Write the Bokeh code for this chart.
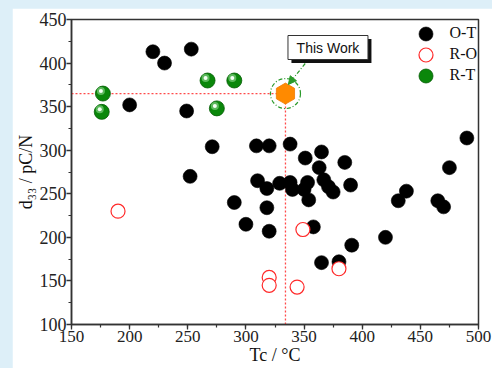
import numpy as np
from bokeh.plotting import figure
from bokeh.models import (Range1d, SingleIntervalTicker, Label, Arrow, NormalHead,
                          Legend, LegendItem, GlobalInlineStyleSheet)
from bokeh.transform import dodge
from bokeh.embed import file_html
from bokeh.resources import INLINE

# ---------------- data ----------------
ot_tc = [200, 220, 230, 253, 249, 271, 252, 290, 300, 309, 320, 338, 351, 365, 385,
         363, 310, 318, 329, 338, 340, 353, 350, 354, 367, 371, 375, 390, 318, 320,
         358, 391, 365, 380, 420, 475, 438, 431, 465, 470, 490]
ot_d33 = [352, 413, 400, 416, 345, 304, 270, 240, 215, 305, 305, 307, 291, 298, 286,
          280, 265, 256, 262, 263, 255, 263, 255, 243, 266, 258, 252, 260, 234, 207,
          212, 191, 171, 172, 200, 280, 253, 242, 242, 235, 314]
ro_tc = [190, 349, 380, 320, 320, 344]
ro_d33 = [230, 209, 164, 154, 145, 143]
rt_tc = [177, 176, 267, 290, 275]
rt_d33 = [365, 344, 380, 380, 348]
this_tc = [334]
this_d33 = [365]
series_names = ["O-T", "R-O", "R-T"]
callout_text = "This Work"
x_label = "Tc / \u00b0C"
y_label = "d\u2083\u2083 / pC/N"

X_START, X_END = 150, 500
Y_START, Y_END = 100, 450

# ---------------- layout (page pixels) ----------------
CANVAS_X0, CANVAS_Y0 = 12, 8
CANVAS_W, CANVAS_H = 480, 360
B_LEFT, B_TOP, B_RIGHT, B_BOTTOM = 55, 11, 14, 44
FRAME_X0 = CANVAS_X0 + B_LEFT
FRAME_Y0 = CANVAS_Y0 + B_TOP
FW = CANVAS_W - B_LEFT - B_RIGHT
FH = CANVAS_H - B_TOP - B_BOTTOM


def px2x(px):
    return X_START + (px - FRAME_X0) * (X_END - X_START) / FW


def px2y(py):
    return Y_END - (py - FRAME_Y0) * (Y_END - Y_START) / FH


SERIF = "Liberation Serif"
SANS = "Liberation Sans"

p = figure(width=CANVAS_W, height=CANVAS_H, output_backend="svg", toolbar_location=None,
           x_range=Range1d(X_START, X_END), y_range=Range1d(Y_START, Y_END),
           min_border_left=B_LEFT, min_border_top=B_TOP, min_border_right=B_RIGHT,
           min_border_bottom=B_BOTTOM, margin=(CANVAS_Y0, 0, 0, CANVAS_X0))
p.stylesheets = [GlobalInlineStyleSheet(css="body { background-color: #ddeff8; }")]
p.border_fill_color = "white"
p.background_fill_color = "white"
p.outline_line_color = "#333333"
p.outline_line_width = 1.5
p.grid.visible = False

for ax in (p.xaxis[0], p.yaxis[0]):
    ax.ticker = SingleIntervalTicker(interval=50, num_minor_ticks=2)
    ax.axis_line_color = "#333333"
    ax.axis_line_width = 1.5
    ax.major_tick_line_color = "#333333"
    ax.minor_tick_line_color = "#333333"
    ax.major_tick_line_width = 1.3
    ax.minor_tick_line_width = 1.2
    ax.major_tick_in = 0
    ax.major_tick_out = 5
    ax.minor_tick_in = 0
    ax.minor_tick_out = 3
    ax.major_label_text_font = SERIF
    ax.major_label_text_font_size = "18px"
    ax.major_label_text_color = "#222222"
    ax.axis_label_text_font = SERIF
    ax.axis_label_text_font_size = "18px"
    ax.axis_label_text_font_style = "normal"
    ax.axis_label_text_color = "#111111"
p.xaxis.axis_label = x_label
p.yaxis.axis_label = y_label
p.yaxis.major_label_standoff = 0
p.yaxis.axis_label_standoff = 1
p.xaxis.major_label_standoff = 1
p.xaxis.axis_label_standoff = 0
p.xaxis.major_label_text_font_size = "17px"

# reference lines for "this work"
ref_col = "#ff4a4a"
p.line([X_START, this_tc[0]], [this_d33[0], this_d33[0]], line_color=ref_col,
       line_dash="2 2", line_width=1.3)
p.line([this_tc[0], this_tc[0]], [Y_START, this_d33[0]], line_color=ref_col,
       line_dash="2 2", line_width=1.3)

# series
r_ot = p.scatter(ot_tc, ot_d33, size=14, marker="circle", fill_color="black",
                 line_color="black", line_width=0.6)
r_ro = p.scatter(ro_tc, ro_d33, size=14, marker="circle", fill_color="white",
                 line_color="#ff2a2a", line_width=1.2)
rt_src = dict(x=rt_tc, y=rt_d33)
r_rt = p.scatter("x", "y", source=rt_src, size=15, marker="circle", fill_color="#0a870a",
                 line_color="#035c03", line_width=0.8)
hx = -2 * (X_END - X_START) / FW
hy = 2.5 * (Y_END - Y_START) / FH
r_rt_h1 = p.scatter(dodge("x", hx, range=p.x_range), dodge("y", hy, range=p.y_range),
                    source=rt_src, size=8, marker="circle", fill_color="#7fcf7f",
                    fill_alpha=0.7, line_color=None)
r_rt_h2 = p.scatter(dodge("x", hx, range=p.x_range), dodge("y", hy, range=p.y_range),
                    source=rt_src, size=4, marker="circle", fill_color="#f4fff4",
                    line_color=None)

# this work
p.scatter(this_tc, this_d33, size=30, marker="circle", fill_color=None,
          line_color="#2a9a2a", line_width=1.2, line_dash="4 2 1 2")
p.scatter(this_tc, this_d33, size=21, marker="hex", angle=np.pi / 6,
          fill_color="#ff8a00", line_color="#f07a00", line_width=0.8)

# callout box
BOX_CX, BOX_CY, BOX_W, BOX_H, SHADOW = 326, 47, 80, 24, 3.5
p.rect([px2x(BOX_CX + SHADOW)], [px2y(BOX_CY + SHADOW)], width=BOX_W, height=BOX_H,
       width_units="screen", height_units="screen", fill_color="#111111", line_color=None)
p.rect([px2x(BOX_CX)], [px2y(BOX_CY)], width=BOX_W, height=BOX_H,
       width_units="screen", height_units="screen", fill_color="white",
       line_color="#333333", line_width=1)
p.add_layout(Label(x=px2x(BOX_CX), y=px2y(BOX_CY), text=callout_text,
                   text_font=SANS, text_font_size="14px", text_color="#111111",
                   text_align="center", text_baseline="middle"))

p.add_layout(Arrow(x_start=px2x(303), y_start=px2y(63), x_end=px2x(286), y_end=px2y(84),
                   line_color="#2a9a2a", line_width=1.2, line_dash="4 2 1 2",
                   end=NormalHead(size=8, fill_color="#2a9a2a", line_color="#2a9a2a")))

# legend: one legend per row so the row pitch can be tighter than the glyph box
GLYPH = 35
LEG_GLYPH_CX = 421          # page px of marker centres
LEG_ROW_CY = [33, 54, 75]   # page px of row centres
FRAME_BOTTOM = FRAME_Y0 + FH
for name, rend, cy in zip(series_names, [r_ot, r_ro, r_rt], LEG_ROW_CY):
    lg = Legend(items=[LegendItem(label=name, renderers=[rend])],
                location=(LEG_GLYPH_CX - GLYPH / 2 - FRAME_X0, FRAME_BOTTOM - (cy + GLYPH / 2)),
                glyph_width=GLYPH, glyph_height=GLYPH, padding=0, margin=0,
                label_standoff=7, label_text_font=SERIF, label_text_font_size="16px",
                label_text_color="#111111", border_line_color=None,
                background_fill_alpha=0)
    p.add_layout(lg, "center")

open("out.html", "w").write(file_html(p, INLINE))
